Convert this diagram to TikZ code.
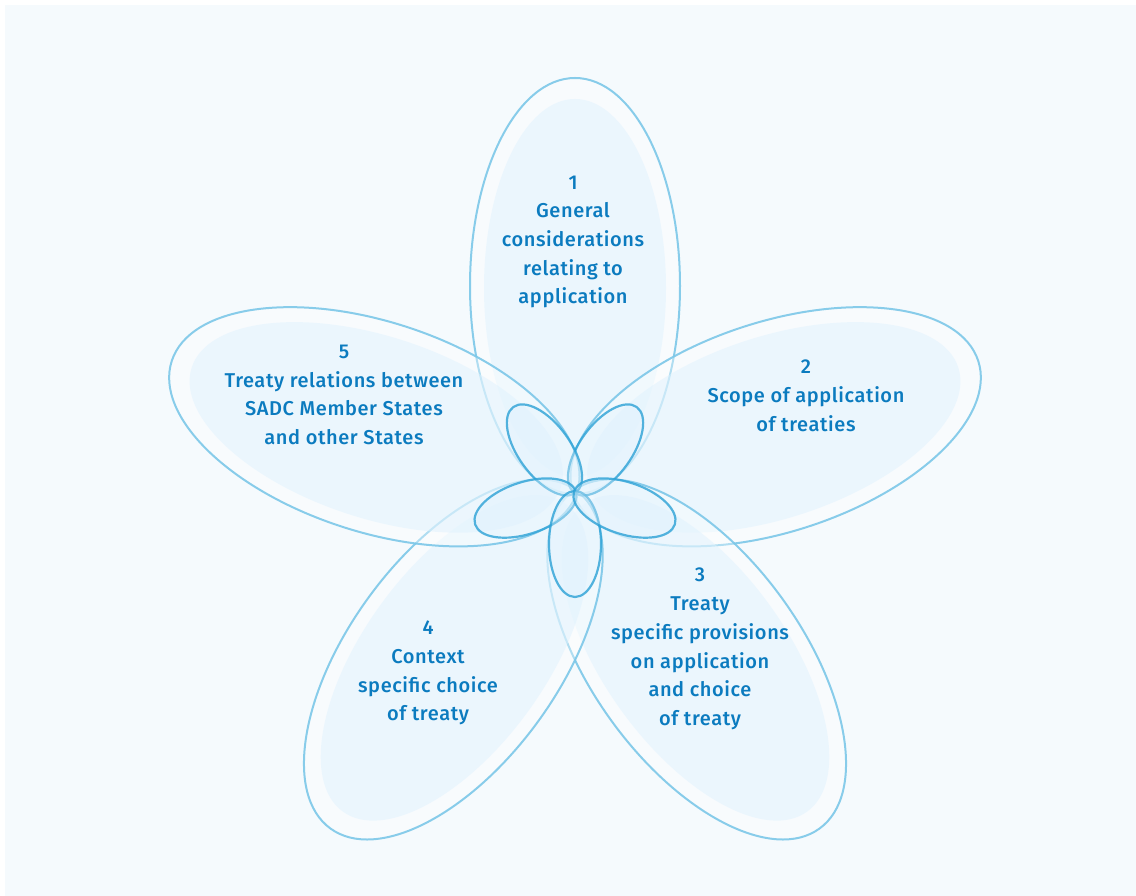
\documentclass[tikz,border=0pt]{standalone}
\usepackage{fontspec}
\setmainfont{Fira Sans}[UprightFont={* Medium}, LetterSpace=3]
\definecolor{bgblue}{HTML}{F5FAFD}
\definecolor{petalline}{HTML}{7CC7E8}
\definecolor{petalfill}{HTML}{DFF2FD}
\definecolor{smallline}{HTML}{2BA1D6}
\definecolor{labelblue}{HTML}{0B7BBF}
\begin{document}
\begin{tikzpicture}[x=1pt,y=1pt,
  bigpetal/.style={draw=petalline, line width=2pt, draw opacity=0.9, fill=white, fill opacity=0.35},
  bigcore/.style={fill=petalfill, fill opacity=0.5},
  smallpetal/.style={draw=smallline, line width=2.2pt, draw opacity=0.8, fill=petalfill, fill opacity=0.35},
  petaltext/.style={text=labelblue, align=center, font=\fontsize{20}{28.7}\selectfont}]
  % page and panel
  \useasboundingbox (0,0) rectangle (1136,896);
  \fill[white] (0,0) rectangle (1136,896);
  \fill[bgblue] (5,0) rectangle (1136,891);
  % centre of the flower
  \coordinate (C) at (575,404);
  % five large petals: angle / distance of the ellipse centre / half length
  \foreach \a/\d/\r in {90/206/208, 18/211/213, -54/207/209, -126/207/209, 162/211/213} {
    \begin{scope}[shift={(C)}, rotate=\a]
      \path[bigpetal] (\d,0) ellipse [x radius=\r, y radius=105];
      \path[bigcore] (\d-2,0) ellipse [x radius=\r-19, y radius=91];
    \end{scope}
  }
  % five small petals between them
  \foreach \a in {54,126,198,270,342} {
    \begin{scope}[shift={(C)}, rotate=\a]
      \path[smallpetal] (52,0) ellipse [x radius=53, y radius=26];
    \end{scope}
  }
  % petal labels
  \node[petaltext] (p1) at (573,654) {1\\General\\considerations\\relating to\\application};
  \node[petaltext] (p2) at (806,500) {2\\Scope of application\\of treaties};
  \node[petaltext] (p3) at (700,247) {3\\Treaty\\specific provisions\\on application\\and choice\\of treaty};
  \node[petaltext] (p4) at (428,223) {4\\Context\\specific choice\\of treaty};
  \node[petaltext] (p5) at (344,501) {5\\Treaty relations between\\SADC Member States\\and other States};
\end{tikzpicture}
\end{document}
